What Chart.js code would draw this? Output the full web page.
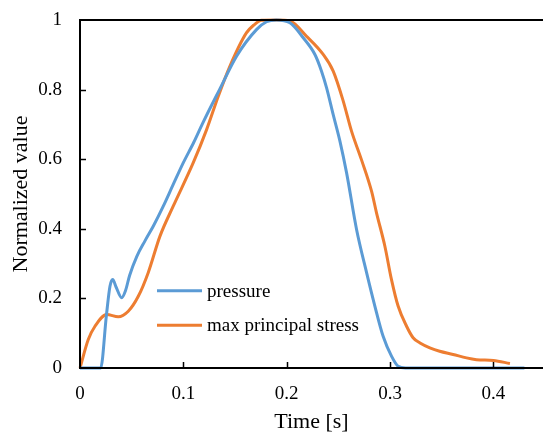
<!DOCTYPE html>
<html>
<head>
<meta charset="utf-8">
<script src="https://cdn.jsdelivr.net/npm/chart.js@4/dist/chart.umd.min.js"></script>
<style>
  html, body { margin: 0; padding: 0; background: #fff; }
  #wrap { width: 543px; height: 432px; }
</style>
</head>
<body>
<div id="wrap"><canvas id="c" width="543" height="432"></canvas></div>
<script>
// ---- data ----
const pressureT = [0, 0.010, 0.020, 0.0255, 0.029, 0.0316, 0.035, 0.0403, 0.044, 0.048, 0.055, 0.063, 0.071, 0.0806, 0.090, 0.100, 0.110, 0.119, 0.135, 0.1515, 0.171, 0.1805, 0.190, 0.2031, 0.216, 0.2273, 0.2337, 0.2386, 0.245, 0.2515, 0.258, 0.2676, 0.2773, 0.2853, 0.2933, 0.3014, 0.3078, 0.315, 0.35, 0.40, 0.43];
const pressureV = [0, 0, 0, 0.15, 0.235, 0.254, 0.232, 0.202, 0.222, 0.266, 0.321, 0.366, 0.408, 0.465, 0.526, 0.59, 0.648, 0.705, 0.80, 0.896, 0.973, 0.995, 1.0, 0.992, 0.949, 0.901, 0.853, 0.805, 0.728, 0.652, 0.56, 0.398, 0.274, 0.178, 0.091, 0.034, 0.005, 0, 0, 0, 0];

const stressT = [0, 0.008, 0.0145, 0.0258, 0.037, 0.0467, 0.0564, 0.066, 0.0774, 0.0902, 0.1096, 0.1225, 0.1338, 0.145, 0.161, 0.168, 0.1757, 0.19, 0.2031, 0.2192, 0.2353, 0.245, 0.2547, 0.2628, 0.2724, 0.2821, 0.2869, 0.295, 0.3014, 0.3078, 0.316, 0.3223, 0.329, 0.3385, 0.348, 0.361, 0.374, 0.3836, 0.40, 0.416];
const stressV = [0, 0.082, 0.12, 0.154, 0.147, 0.163, 0.206, 0.274, 0.379, 0.465, 0.59, 0.685, 0.781, 0.867, 0.963, 0.985, 0.999, 1.0, 0.997, 0.953, 0.901, 0.853, 0.767, 0.68, 0.598, 0.508, 0.446, 0.35, 0.254, 0.178, 0.12, 0.087, 0.072, 0.058, 0.048, 0.039, 0.029, 0.024, 0.0216, 0.013];

const seriesNames = ['pressure', 'max principal stress'];
const seriesColors = ['#5B9BD5', '#ED7D31'];
const xTicks = [0, 0.1, 0.2, 0.3, 0.4];
const yTicks = [0, 0.2, 0.4, 0.6, 0.8, 1];
const xTitle = 'Time [s]';
const yTitle = 'Normalized value';

const FONT = "'Liberation Serif', 'Times New Roman', serif";

function pts(t, v) { return t.map((x, i) => ({ x: x, y: v[i] })); }

const framePlugin = {
  id: 'frame',
  afterDatasetsDraw(chart) {
    const ctx = chart.ctx, a = chart.chartArea;
    const xs = chart.scales.x, ys = chart.scales.y;
    ctx.save();
    ctx.strokeStyle = '#000';
    ctx.lineWidth = 2;
    ctx.beginPath();
    ctx.moveTo(a.left, a.top); ctx.lineTo(a.left, a.bottom);
    ctx.moveTo(a.left - 1, a.bottom); ctx.lineTo(a.right, a.bottom);
    ctx.moveTo(a.left - 1, a.top); ctx.lineTo(a.right, a.top);
    ctx.stroke();
    ctx.lineWidth = 1.5;
    ctx.beginPath();
    xTicks.forEach(v => {
      if (v === 0) return;
      const px = Math.round(xs.getPixelForValue(v)) + 0.5;
      ctx.moveTo(px, a.bottom); ctx.lineTo(px, a.bottom - 6);
    });
    yTicks.forEach(v => {
      if (v === 0 || v === 1) return;
      const py = Math.round(ys.getPixelForValue(v)) + 0.5;
      ctx.moveTo(a.left, py); ctx.lineTo(a.left + 6, py);
    });
    ctx.stroke();
    // legend
    const lx0 = a.left + 77, lx1 = a.left + 122, tx = a.left + 127;
    const ly = [ys.getPixelForValue(0.222), ys.getPixelForValue(0.123)];
    chart.data.datasets.forEach((ds, i) => {
      ctx.strokeStyle = ds.borderColor;
      ctx.lineWidth = 3;
      ctx.beginPath();
      ctx.moveTo(lx0, ly[i]); ctx.lineTo(lx1, ly[i]);
      ctx.stroke();
      ctx.fillStyle = '#000';
      ctx.font = '19px ' + FONT;
      ctx.textBaseline = 'middle';
      ctx.textAlign = 'left';
      ctx.fillText(ds.label, tx, ly[i] + 1);
    });
    ctx.restore();
  }
};

new Chart(document.getElementById('c'), {
  type: 'scatter',
  data: {
    datasets: [
      { label: seriesNames[0], data: pts(pressureT, pressureV), borderColor: seriesColors[0], backgroundColor: seriesColors[0] },
      { label: seriesNames[1], data: pts(stressT, stressV), borderColor: seriesColors[1], backgroundColor: seriesColors[1] }
    ]
  },
  options: {
    responsive: false,
    animation: false,
    devicePixelRatio: 1,
    layout: { padding: { top: 20, right: 0, left: 0, bottom: 0 } },
    elements: {
      point: { radius: 0, hoverRadius: 0 },
      line: { borderWidth: 3, tension: 0, cubicInterpolationMode: 'monotone' }
    },
    datasets: { scatter: { showLine: true, clip: false } },
    plugins: { legend: { display: false }, tooltip: { enabled: false } },
    scales: {
      x: {
        type: 'linear', min: 0, max: 0.448,
        grid: { display: false, drawTicks: false },
        border: { display: false },
        afterBuildTicks(s) { s.ticks = xTicks.map(v => ({ value: v })); },
        afterFit(s) { s.height = 64; s.paddingLeft = 0; s.paddingRight = 0; },
        ticks: { color: '#000', font: { family: FONT, size: 19 }, padding: 15, maxRotation: 0,
                 callback: v => String(v) },
        title: { display: true, text: xTitle, color: '#000', font: { family: FONT, size: 22 }, padding: { top: 0, bottom: -3 } }
      },
      y: {
        type: 'linear', min: 0, max: 1,
        grid: { display: false, drawTicks: false },
        border: { display: false },
        afterBuildTicks(s) { s.ticks = yTicks.map(v => ({ value: v })); },
        afterFit(s) { s.width = 80; s.paddingTop = 0; s.paddingBottom = 0; },
        ticks: { color: '#000', font: { family: FONT, size: 19 }, padding: 18,
                 callback: v => String(v) },
        title: { display: true, text: yTitle, color: '#000', font: { family: FONT, size: 22 }, padding: { top: 8, bottom: 8 } }
      }
    }
  },
  plugins: [framePlugin]
});
</script>
</body>
</html>
